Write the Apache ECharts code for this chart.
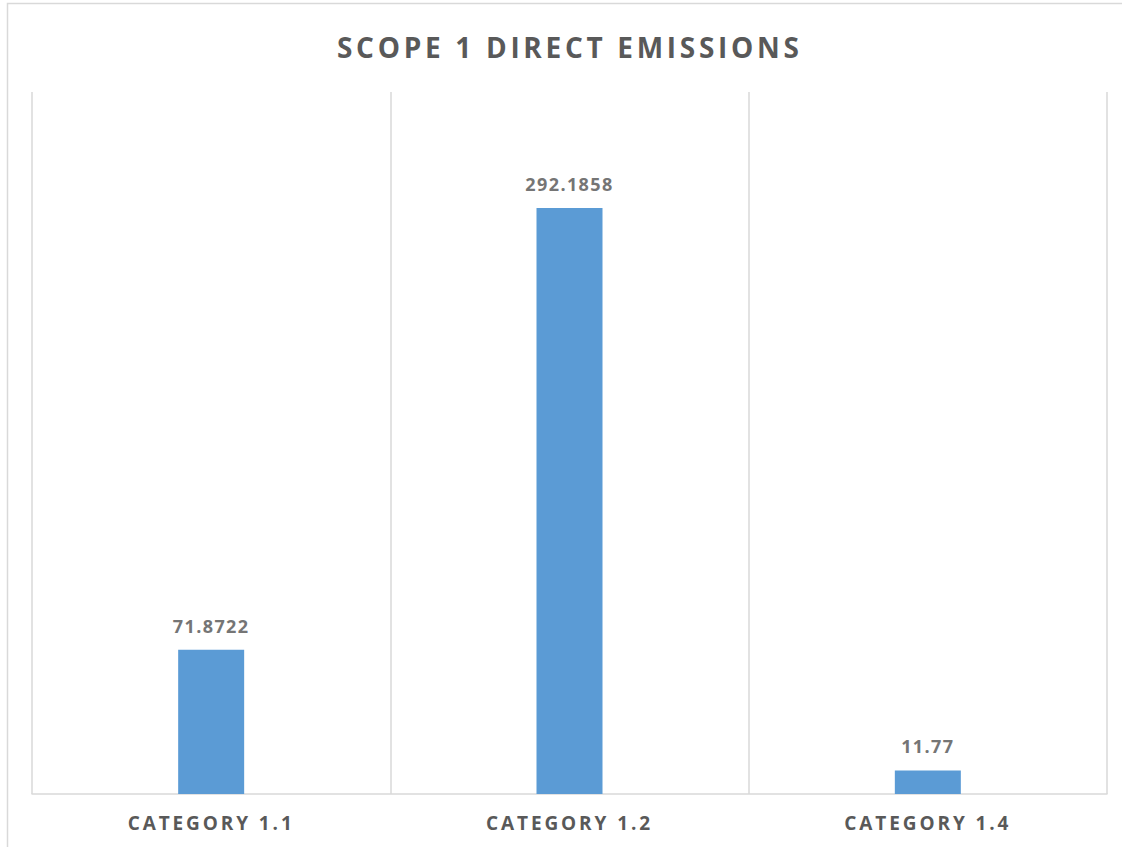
<!DOCTYPE html>
<html><head><meta charset="utf-8">
<script src="https://cdn.jsdelivr.net/npm/echarts@6/dist/echarts.min.js"></script>
<style>
html,body{margin:0;padding:0;background:#fff}#c{width:1122px;height:847px}
#c svg text[style*="28px"]{letter-spacing:3.7px}
#c svg text[style*="19px"]{letter-spacing:2.9px}
#c svg text[style*="18px"]{letter-spacing:1.4px}
</style>
</head><body><div id="c"></div>
<script>
const titleText = 'SCOPE 1 DIRECT EMISSIONS';
const categories = ['CATEGORY 1.1', 'CATEGORY 1.2', 'CATEGORY 1.4'];
const values = [71.8722, 292.1858, 11.77];

const chart = echarts.init(document.getElementById('c'), null, {renderer: 'svg'});
chart.setOption({
  backgroundColor: '#fff',
  animation: false,
  graphic: [{
    type: 'rect', shape: {x: 7.5, y: 3.5, width: 1200, height: 900},
    style: {fill: 'none', stroke: '#d9d9d9', lineWidth: 1.5}, silent: true
  }],
  title: {
    text: titleText, left: 332, top: 28, padding: 5,
    textStyle: {fontFamily: 'Open Sans', fontWeight: 'bold', fontSize: 28, color: '#595959'}
  },
  grid: {left: 32, right: 15, top: 92, bottom: 53, containLabel: false},
  xAxis: {
    type: 'category', data: categories,
    axisLine: {show: true, lineStyle: {color: '#d9d9d9', width: 1.5}},
    axisTick: {show: false},
    splitLine: {show: true, lineStyle: {color: '#d9d9d9', width: 1.5}},
    axisLabel: {margin: 19, fontFamily: 'Open Sans', fontWeight: 'bold', fontSize: 19, color: '#595959'}
  },
  yAxis: {
    type: 'value', min: 0, max: 350,
    axisLabel: {show: false}, axisLine: {show: false}, axisTick: {show: false}, splitLine: {show: false}
  },
  series: [{
    type: 'bar', data: values, barWidth: 66,
    itemStyle: {color: '#5B9BD5'},
    label: {show: true, position: 'top', distance: 15, fontFamily: 'Open Sans', fontWeight: 'bold', fontSize: 18, color: '#757575'}
  }]
});
</script></body></html>
